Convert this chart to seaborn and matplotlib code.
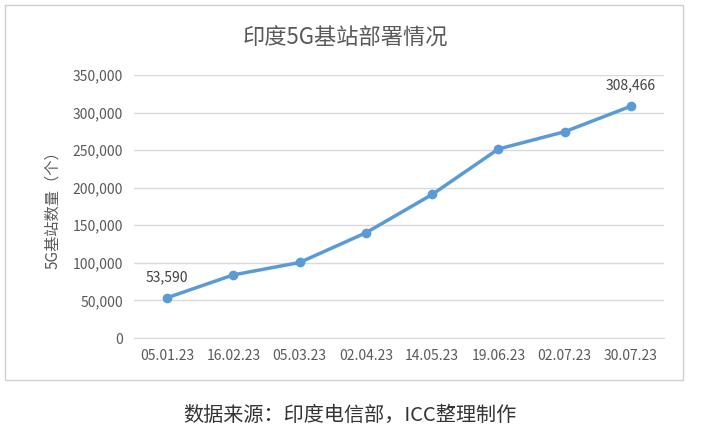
import matplotlib.pyplot as plt
import seaborn as sns
import pandas as pd
from matplotlib.patches import Rectangle

dates = ["05.01.23", "16.02.23", "05.03.23", "02.04.23", "14.05.23", "19.06.23", "02.07.23", "30.07.23"]
stations = [53590, 84000, 100500, 140000, 191000, 251500, 274500, 308466]

df = pd.DataFrame({"date": dates, "n": stations})

sns.set_style("white")
plt.rcParams['font.family'] = ['Noto Sans CJK SC', 'DejaVu Sans']

fig = plt.figure(figsize=(7.11, 4.4), dpi=100)
fig.patches.append(Rectangle((5 / 711, 1 - 380 / 440), 678 / 711, 375 / 440,
                             transform=fig.transFigure, fill=False, ec="#d0d0d0", lw=1))
ax = fig.add_axes([134 / 711, 1 - 338 / 440, 530 / 711, 263 / 440])

sns.lineplot(data=df, x="date", y="n", ax=ax, color="#5b9bd5", lw=2.5,
             marker="o", markersize=7, markeredgewidth=0, sort=False)

ax.set_ylim(0, 350000)
ax.set_yticks(range(0, 350001, 50000))
ax.set_yticklabels([f"{v:,}" for v in range(0, 350001, 50000)])
ax.set_xlim(-0.5, len(dates) - 0.5)
ax.grid(axis="y", color="#d9d9d9", lw=1)
for s in ["top", "right", "left"]:
    ax.spines[s].set_visible(False)
ax.spines["bottom"].set_color("#d9d9d9")
ax.tick_params(axis="both", length=0, labelsize=10, colors="#595959", pad=8)
ax.set_xlabel("")
ax.set_ylabel("5G基站数量（个）", fontsize=11, color="#595959", labelpad=8)

for i in (0, len(dates) - 1):
    ax.annotate(f"{stations[i]:,}", (i, stations[i]), xytext=(0, 10),
                textcoords="offset points", ha="center", va="bottom",
                fontsize=10, color="#404040")

fig.text(345 / 711, 1 - 38 / 440, "印度5G基站部署情况", ha="center", va="center",
         fontsize=16, color="#595959")
fig.text(350 / 711, 1 - 415 / 440, "数据来源：印度电信部，ICC整理制作", ha="center",
         va="center", fontsize=14.5, color="#333333")

fig.savefig("out.png", dpi=100)
